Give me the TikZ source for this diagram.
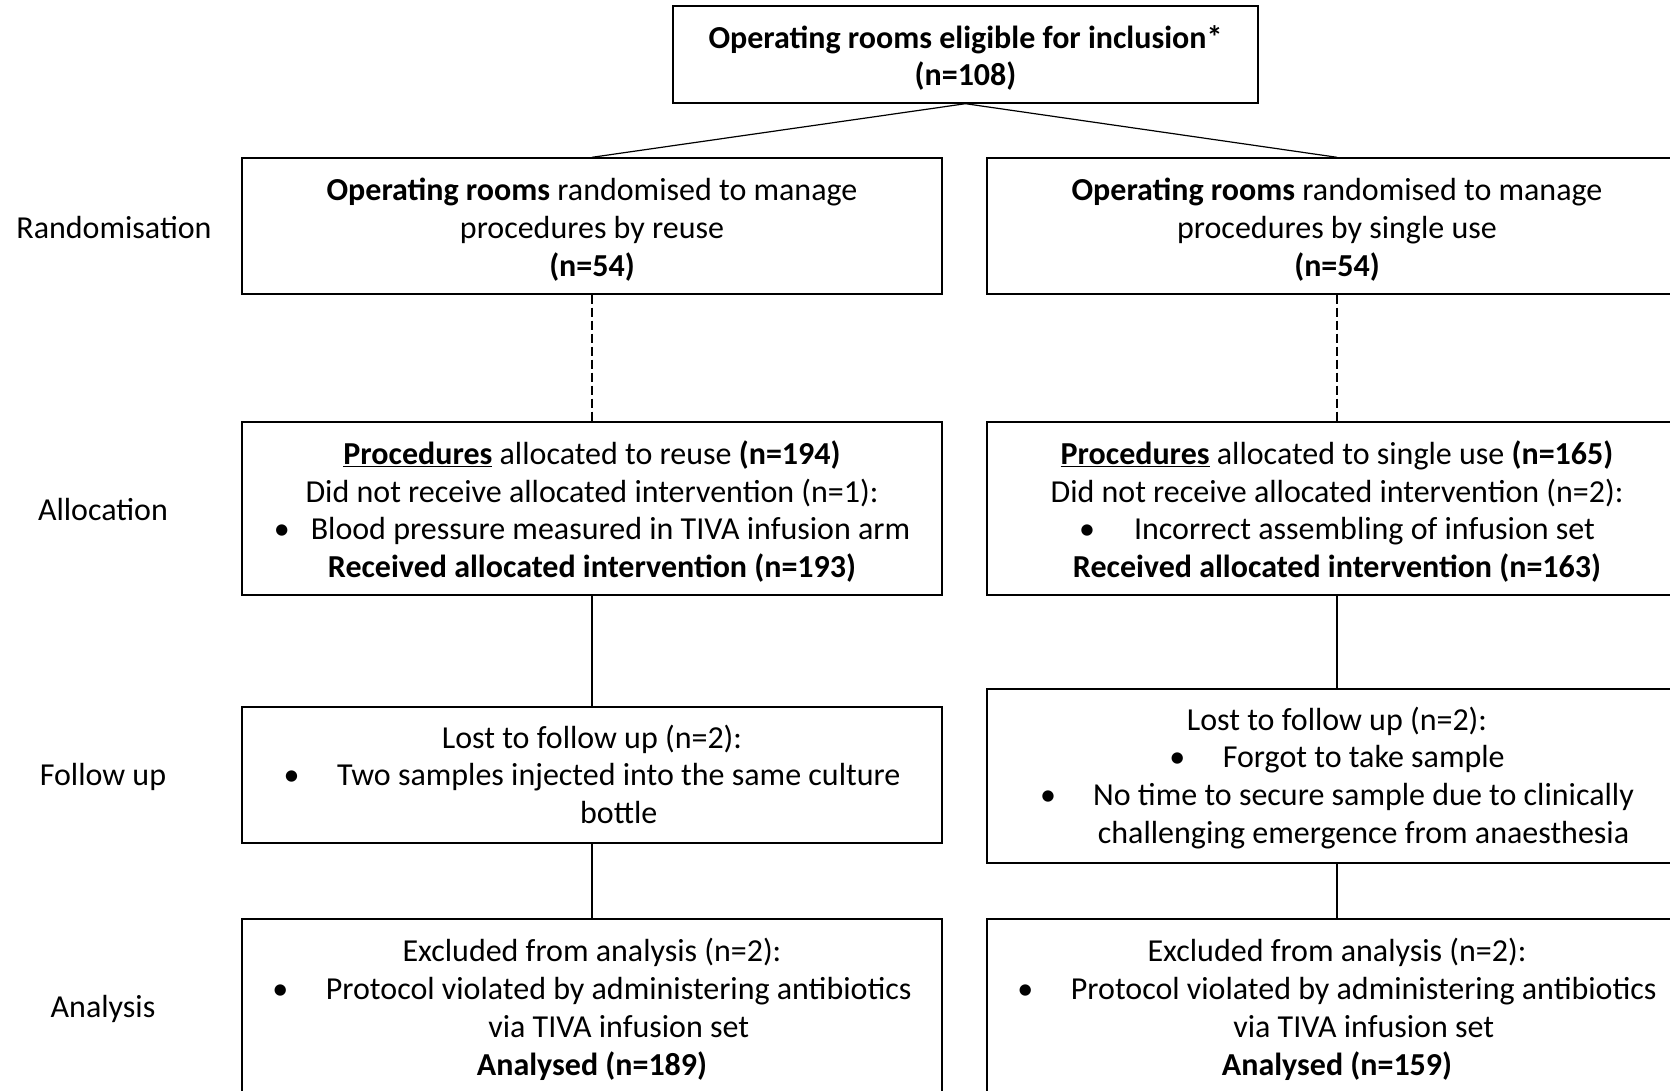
\documentclass[tikz,border=0pt]{standalone}
\usepackage{fontspec}
\setmainfont{Carlito}
% bullet set in a box of fixed width, so the item text starts at a set indent
\newcommand\bul[1]{\makebox[#1][l]{\textbullet}}
% body font: 32pt on 37.8pt lines, no extra line gap
\newcommand\flowfont{\fontsize{32}{37.8}\selectfont\setlength{\lineskip}{0pt}}
% fixed ascent for the first line of a box
\newcommand\fl{\rule{0pt}{33pt}}
\begin{document}
\begin{tikzpicture}[x=1pt,y=-1pt,
  txt/.style={font=\flowfont},
  box/.style={txt, draw, line width=1.4pt, inner sep=0pt, align=center,
    execute at end node={\rule[-8pt]{0pt}{8pt}}},
  colbox/.style={box, minimum width=700pt},
  conn/.style={line width=1.2pt},
  dashconn/.style={conn, dash pattern=on 9pt off 4pt},
  stage/.style={txt, anchor=center}]
\useasboundingbox (0,0) rectangle (1670,1091);

% stage labels
\node[stage] (lRand)  at (114,228)  {Randomisation};
\node[stage] (lAlloc) at (103,510)  {Allocation};
\node[stage] (lFu)    at (103,777)  {Follow up};
\node[stage] (lAn)    at (103,1009) {Analysis};

% eligibility
\node[box, minimum width=585pt, minimum height=97pt] (elig) at (965.5,54.5)
  {\fl\textbf{Operating rooms eligible for inclusion*}\\\textbf{(n=108)}};

% randomisation
\node[colbox, minimum height=136pt] (randL) at (592,226)
  {\fl\textbf{Operating rooms} randomised to manage\\procedures by reuse\\\textbf{(n=54)}};
\node[colbox, minimum height=136pt] (randR) at (1337,226)
  {\fl\textbf{Operating rooms} randomised to manage\\procedures by single use\\\textbf{(n=54)}};

% allocation
\node[colbox, minimum height=173pt] (allocL) at (592,508.5)
  {\fl\underline{\textbf{Procedures}} allocated to reuse \textbf{(n=194)}\\
   Did not receive allocated intervention (n=1):\\
   \bul{37pt}Blood pressure measured in TIVA infusion arm\\
   \textbf{Received allocated intervention (n=193)}};
\node[colbox, minimum height=173pt] (allocR) at (1337,508.5)
  {\fl\underline{\textbf{Procedures}} allocated to single use \textbf{(n=165)}\\
   Did not receive allocated intervention (n=2):\\
   \bul{55pt}Incorrect assembling of infusion set\\
   \textbf{Received allocated intervention (n=163)}};

% follow up
\node[colbox, minimum height=136pt] (fuL) at (592,775)
  {\fl Lost to follow up (n=2):\\
   \bul{53.5pt}\begin{tabular}[t]{@{}c@{}}Two samples injected into the same culture\\bottle\end{tabular}};
\node[colbox, minimum height=174pt] (fuR) at (1337,776)
  {\fl Lost to follow up (n=2):\\
   \bul{53.5pt}Forgot to take sample\\
   \bul{53pt}\begin{tabular}[t]{@{}c@{}}No time to secure sample due to clinically\\challenging emergence from anaesthesia\end{tabular}};

% analysis
\node[colbox, minimum height=177pt] (anL) at (592,1007.5)
  {\fl Excluded from analysis (n=2):\\
   \bul{53.5pt}\begin{tabular}[t]{@{}c@{}}Protocol violated by administering antibiotics\\via TIVA infusion set\end{tabular}\\
   \strut\textbf{Analysed (n=189)}};
\node[colbox, minimum height=177pt] (anR) at (1337,1007.5)
  {\fl Excluded from analysis (n=2):\\
   \bul{53.5pt}\begin{tabular}[t]{@{}c@{}}Protocol violated by administering antibiotics\\via TIVA infusion set\end{tabular}\\
   \strut\textbf{Analysed (n=159)}};

% connectors
\draw[conn] (elig.south) -- (randL.north);
\draw[conn] (elig.south) -- (randR.north);
\draw[dashconn] (randL.south) -- (allocL.north);
\draw[dashconn] (randR.south) -- (allocR.north);
\draw[conn] (allocL.south) -- (fuL.north);
\draw[conn] (allocR.south) -- (fuR.north);
\draw[conn] (fuL.south) -- (anL.north);
\draw[conn] (fuR.south) -- (anR.north);
\end{tikzpicture}
\end{document}
